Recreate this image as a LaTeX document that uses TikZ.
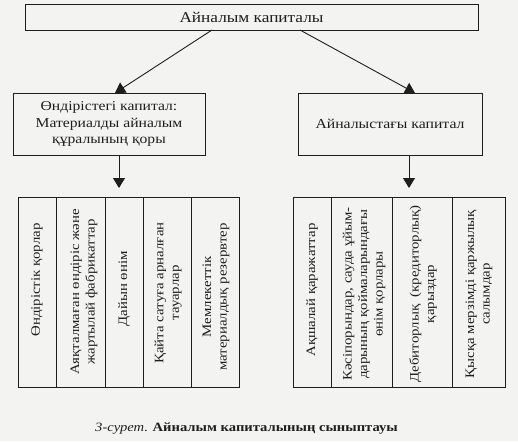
\documentclass[tikz,border=0pt]{standalone}
\usepackage{fontspec}
\setmainfont[FakeStretch=1.15]{Liberation Serif}
\usetikzlibrary{arrows.meta}
\definecolor{ink}{HTML}{1E1E1E}
\definecolor{paper}{HTML}{F3F3F1}
\tikzset{
  box/.style={draw=ink, line width=0.9pt, inner sep=0pt, text=ink},
  col/.style={draw=ink, line width=0.9pt, inner sep=0pt, minimum height=190pt},
  coltext/.style={rotate=90, align=center, text=ink, font=\fontsize{12.9}{15.5}\selectfont, inner sep=0pt},
  arr/.style={draw=ink, line width=0.9pt, -{Triangle[length=10pt,width=12pt]}}
}
\begin{document}
\begin{tikzpicture}[x=1pt,y=-1pt]
\path[fill=paper] (0,0) rectangle (518,441);
\useasboundingbox (0,0) rectangle (518,441);
% top
\node[box, minimum width=453pt, minimum height=26pt, font=\fontsize{15}{17}\selectfont] (top) at (251.5,17) {Айналым капиталы};
\node[box, minimum width=192pt, minimum height=62pt, align=center, font=\fontsize{13.6}{16.5}\selectfont] (lb) at (109,124) {Өндірістегі капитал:\\Материалды айналым\\құралының қоры};
\node[box, minimum width=184pt, minimum height=62pt, font=\fontsize{13.7}{16}\selectfont] (rb) at (390,124) {Айналыстағы капитал};
\coordinate (ts1) at (212,30);
\coordinate (ts2) at (300,30);
\coordinate (tl) at (115,93);
\coordinate (tr) at (415,93);
\draw[arr] (ts1) -- (tl);
\draw[arr] (ts2) -- (tr);
% left columns
\node[col, minimum width=38pt] (l1) at (37,292) {};
\node[col, minimum width=49pt] (l2) at (80.5,292) {};
\node[col, minimum width=38pt] (l3) at (124,292) {};
\node[col, minimum width=48pt] (l4) at (167,292) {};
\node[col, minimum width=48pt] (l5) at (215,292) {};
\node[coltext] (lt1) at (37,280) {Өндірістік қорлар};
\node[coltext] (lt2) at (84,292) {Аяқталмаған өндіріс және\\жартылай фабрикаттар};
\node[coltext] (lt3) at (124,289) {Дайын өнім};
\node[coltext] (lt4) at (168,293) {Қайта сатуға арналған\\тауарлар};
\node[coltext] (lt5) at (216,297) {Мемлекеттік\\материалдық резервтер};
% right columns
\node[col, minimum width=38pt] (r1) at (312,292.5) {};
\node[col, minimum width=61pt] (r2) at (361.5,292.5) {};
\node[col, minimum width=60pt] (r3) at (422,292.5) {};
\node[col, minimum width=53pt] (r4) at (478.5,292.5) {};
\node[coltext] (rt1) at (312,290) {Ақшалай қаражаттар};
\node[coltext] (rt2) at (364,294) {Кәсіпорындар, сауда ұйым-\\дарының қоймаларындағы\\өнім қорлары};
\node[coltext] (rt3) at (423,294) {Дебиторлық\ \ (кредиторлық)\\қарыздар};
\node[coltext] (rt4) at (479,294) {Қысқа мерзімді қаржылық\\салымдар};
% vertical arrows
\coordinate (al) at (119,188);
\coordinate (ar) at (409,188);
\draw[arr] (lb.south -| al) -- (al);
\draw[arr] (rb.south -| ar) -- (ar);
% caption
\node[text=ink, font=\fontsize{12.7}{15}\selectfont, anchor=west, inner sep=0pt] (cap) at (95,428) {\textit{3-сурет}. \textbf{Айналым капиталының сыныптауы}};
\end{tikzpicture}
\end{document}
